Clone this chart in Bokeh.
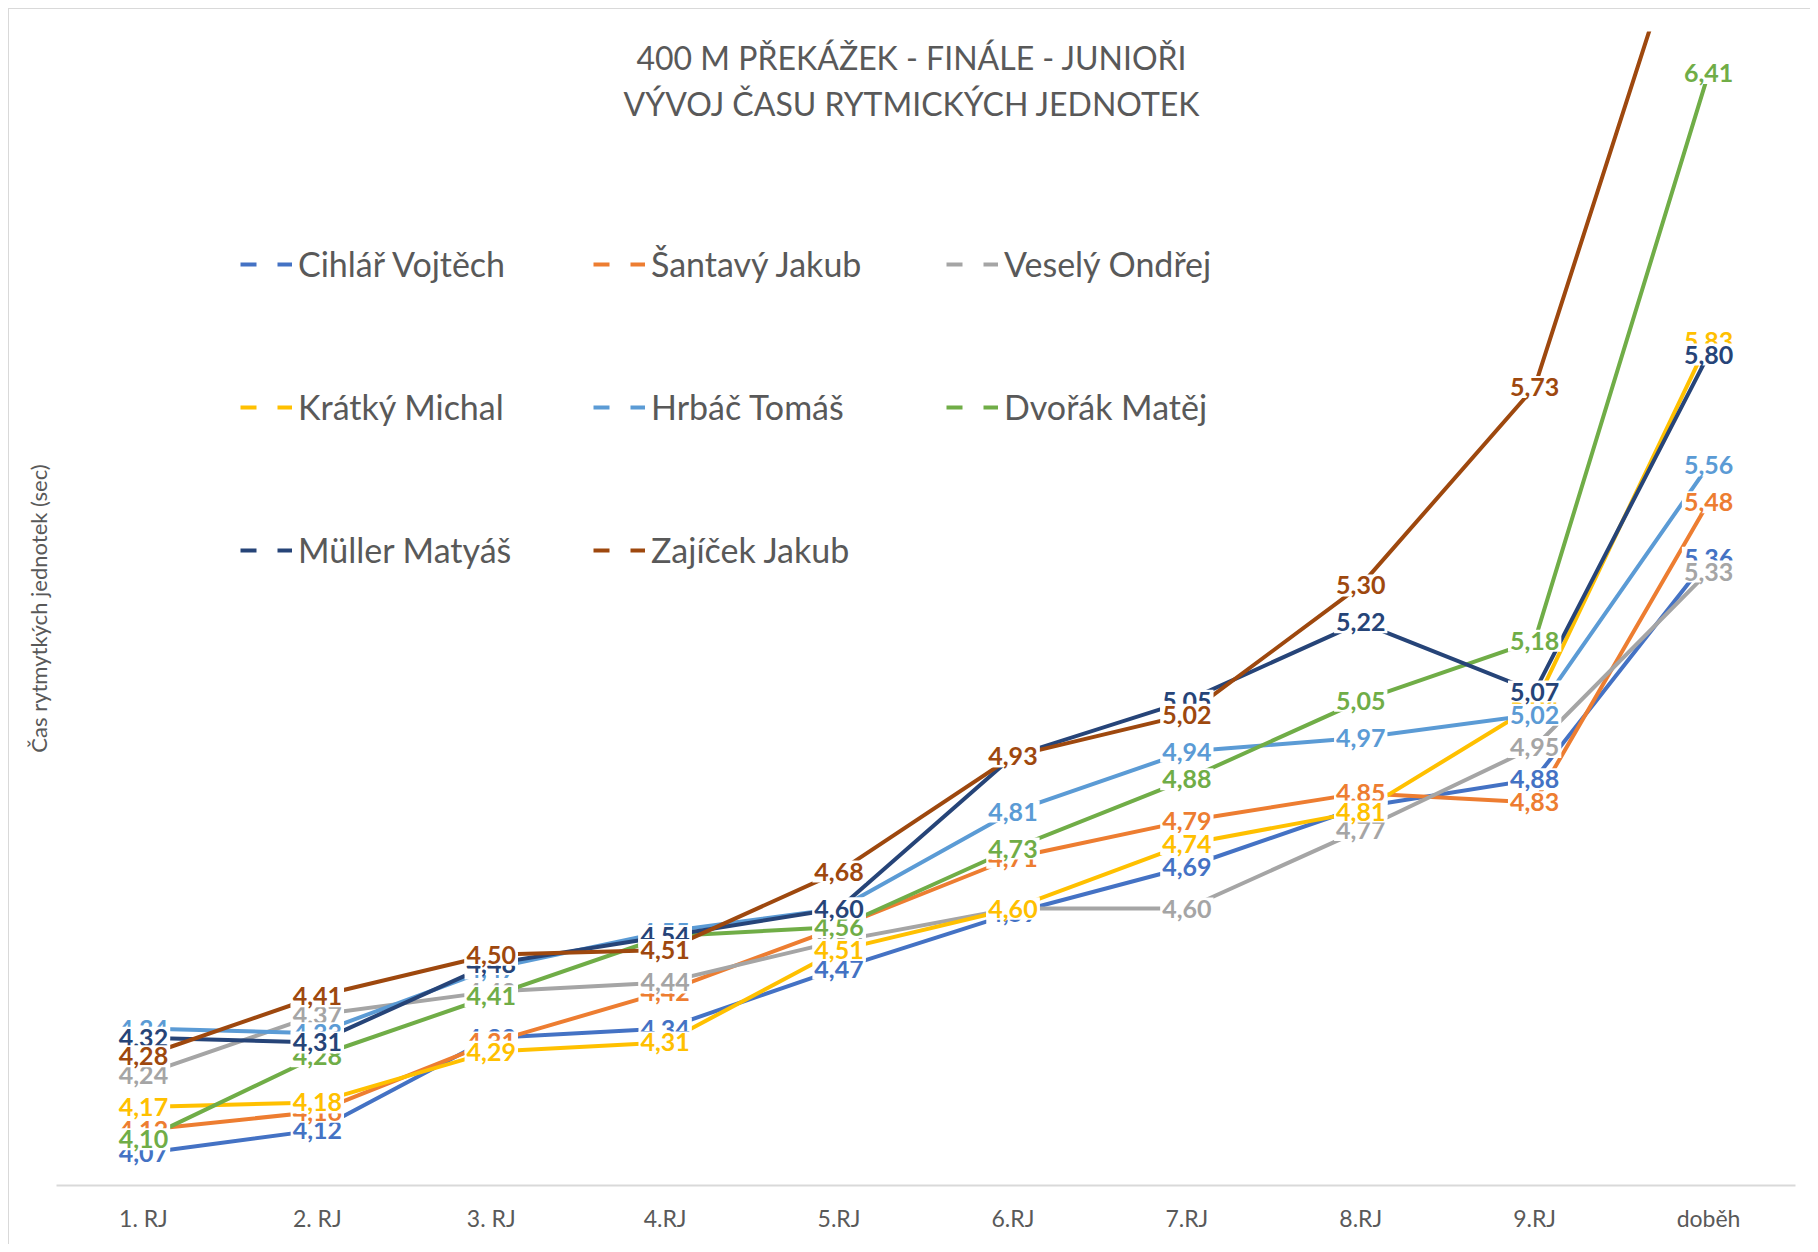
from bokeh.plotting import figure
from bokeh.models import Range1d, FixedTicker, Legend, LegendItem, Label, ColumnDataSource
from bokeh.embed import file_html
from bokeh.resources import INLINE
from bokeh.core.properties import value

title_line1 = "400 M PŘEKÁŽEK - FINÁLE - JUNIOŘI"
title_line2 = "VÝVOJ ČASU RYTMICKÝCH JEDNOTEK"
y_title = "Čas rytmytkých jednotek (sec)"

categories = ["1. RJ", "2. RJ", "3. RJ", "4.RJ", "5.RJ", "6.RJ", "7.RJ", "8.RJ", "9.RJ", "doběh"]

names = ["Cihlář Vojtěch", "Šantavý Jakub", "Veselý Ondřej", "Krátký Michal",
         "Hrbáč Tomáš", "Dvořák Matěj", "Müller Matyáš", "Zajíček Jakub"]
colors = ["#4472C4", "#ED7D31", "#A5A5A5", "#FFC000",
          "#5B9BD5", "#70AD47", "#264478", "#9E480E"]

cihlar = [4.07, 4.12, 4.32, 4.34, 4.47, 4.59, 4.69, 4.82, 4.88, 5.36]
santavy = [4.12, 4.16, 4.31, 4.42, 4.56, 4.71, 4.79, 4.85, 4.83, 5.48]
vesely = [4.24, 4.37, 4.42, 4.44, 4.53, 4.60, 4.60, 4.77, 4.95, 5.33]
kratky = [4.17, 4.18, 4.29, 4.31, 4.51, 4.60, 4.74, 4.81, 5.04, 5.83]
hrbac = [4.34, 4.33, 4.47, 4.55, 4.60, 4.81, 4.94, 4.97, 5.02, 5.56]
dvorak = [4.10, 4.28, 4.41, 4.54, 4.56, 4.73, 4.88, 5.05, 5.18, 6.41]
muller = [4.32, 4.31, 4.48, 4.54, 4.60, 4.93, 5.05, 5.22, 5.07, 5.80]
zajicek = [4.28, 4.41, 4.50, 4.51, 4.68, 4.93, 5.02, 5.30, 5.73, 6.90]

series = [cihlar, santavy, vesely, kratky, hrbac, dvorak, muller, zajicek]

Y_MIN, Y_MAX = 4.0, 6.5

FONT = "Lato"
GRAY = "#595959"

xs = list(range(len(categories)))

p = figure(width=1802, height=1236,
           x_range=Range1d(-0.5, len(categories) - 0.5),
           y_range=Range1d(Y_MIN, Y_MAX),
           output_backend="svg", toolbar_location=None,
           min_border_left=47, min_border_right=16,
           min_border_top=22, min_border_bottom=60)
p.styles = {"margin-left": "8px", "margin-top": "8px",
            "border-top": "1px solid #d9d9d9", "border-left": "1px solid #d9d9d9"}
p.background_fill_color = "white"
p.border_fill_color = "white"
p.outline_line_color = None
p.xgrid.visible = False
p.ygrid.visible = False

# x axis
p.xaxis.ticker = FixedTicker(ticks=xs)
p.xaxis.major_label_overrides = {i: c for i, c in enumerate(categories)}
p.xaxis.axis_line_color = "#d9d9d9"
p.xaxis.axis_line_width = 2
p.xaxis.major_tick_line_color = None
p.xaxis.minor_tick_line_color = None
p.xaxis.major_label_standoff = 12
p.xaxis.major_label_text_font = FONT
p.xaxis.major_label_text_font_size = "23px"
p.xaxis.major_label_text_color = GRAY

# y axis (no ticks, only title)
p.yaxis.ticker = FixedTicker(ticks=[])
p.yaxis.axis_line_color = None
p.yaxis.major_tick_line_color = None
p.yaxis.minor_tick_line_color = None
p.yaxis.major_label_standoff = 0
p.yaxis.axis_label = y_title
p.yaxis.axis_label_text_font = FONT
p.yaxis.axis_label_text_font_size = "22px"
p.yaxis.axis_label_text_font_style = "normal"
p.yaxis.axis_label_text_color = GRAY
p.yaxis.axis_label_standoff = 5

# lines
for vals, color in zip(series, colors):
    p.line(x=xs, y=vals, line_color=color, line_width=4)

# data labels (white boxes, drawn in series order)
def fmt(v):
    return f"{v:.2f}".replace(".", ",") if Y_MIN <= v <= Y_MAX else ""

for vals, color in zip(series, colors):
    src = ColumnDataSource(dict(x=xs, y=vals, t=[fmt(v) for v in vals]))
    p.text(x="x", y="y", text="t", source=src,
           text_align="center", text_baseline="middle",
           text_color=color, text_font=value(FONT), text_font_style="bold",
           text_font_size="25px",
           background_fill_color="white", padding=2)

# legend (dashed samples, like the original)
items = []
for name, color in zip(names, colors):
    r = p.line(x=[0], y=[float("nan")], line_color=color, line_width=4, line_dash="16 21")
    items.append(LegendItem(label=name, renderers=[r]))
legend = Legend(items=items, orientation="horizontal", ncols=3,
                location=(184, 564), glyph_width=52, glyph_height=40,
                label_height=143, label_width=295, label_standoff=6,
                spacing=0, padding=0, margin=0,
                label_text_font=FONT, label_text_font_size="34px",
                label_text_color=GRAY,
                background_fill_alpha=0, border_line_alpha=0)
p.add_layout(legend)

# title (inside plot area, as in the original)
for txt, yy in [(title_line1, 1128), (title_line2, 1082)]:
    p.add_layout(Label(x=(len(categories) - 1) / 2, y=yy, x_units="data", y_units="screen",
                       x_offset=-14, text=txt, text_align="center", text_baseline="middle",
                       text_font=FONT, text_font_size="32px", text_color=GRAY))

open("out.html", "w").write(file_html(p, INLINE))
